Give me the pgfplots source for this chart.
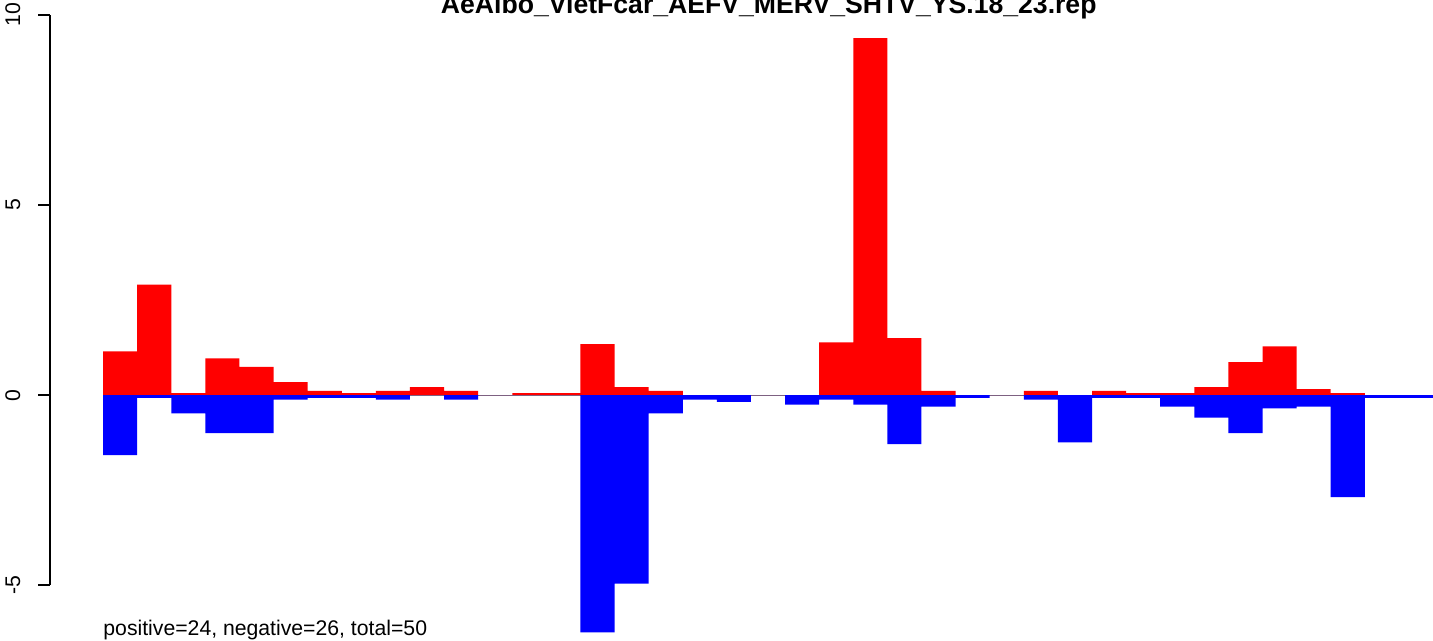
\documentclass[border=0pt]{standalone}
\usepackage{pgfplots}
\pgfplotsset{compat=1.18}
\usepackage{pgfplotstable}
\usepackage{fontspec}
\setmainfont{Liberation Sans}
\pgfplotstableread{
x red blue
0 1.15 -1.58
1 2.91 -0.07
2 0.05 -0.48
3 0.97 -1.00
4 0.74 -1.00
5 0.34 -0.12
6 0.11 -0.07
7 0.05 -0.07
8 0.11 -0.12
9 0.21 0
10 0.11 -0.12
11 0 0
12 0.05 0
13 0.05 0
14 1.34 -6.24
15 0.21 -4.96
16 0.11 -0.48
17 0 -0.12
18 0 -0.18
19 0 0
20 0 -0.25
21 1.39 -0.12
22 9.39 -0.25
23 1.50 -1.29
24 0.11 -0.30
25 0 -0.07
26 0 0
27 0.11 -0.12
28 0 -1.24
29 0.11 -0.07
30 0.05 -0.07
31 0.05 -0.30
32 0.21 -0.59
33 0.87 -1.00
34 1.28 -0.35
35 0.16 -0.30
36 0.05 -2.68
37 0 -0.07
38 0 -0.07
}\datatable
\begin{document}
\begin{tikzpicture}
\path[use as bounding box] (-25pt,-27.5pt) rectangle (691.25pt,292.5pt);
\begin{axis}[
  at={(0,0)}, anchor=south west,
  scale only axis,
  width=691.25pt, height=285pt,
  xmin=-2.055, xmax=38.5,
  ymin=-5, ymax=10,
  clip=false,
  axis x line=none,
  axis y line*=left,
  axis line style={line width=0.8pt, black},
  ytick={-5,0,5,10},
  tick align=outside,
  major tick length=6pt,
  tick style={line width=0.8pt, black},
  /pgf/number format/assume math mode=true,
  yticklabel style={rotate=90, anchor=base, inner sep=0pt, font=\fontsize{10.6}{12}\selectfont},
  yticklabel shift=9pt,
  title={AeAlbo\_VietFcar\_AEFV\_MERV\_SHTV\_YS.18\_23.rep},
  title style={at={(rel axis cs:0.5197,1)}, anchor=base, yshift=-5.5pt, inner sep=0pt, font=\fontsize{13.3}{15}\selectfont\bfseries},
]
\addplot[gray, line width=0.6pt] coordinates {(-0.5,0) (38.5,0)};
\addplot[ybar, bar width=1, bar shift=0pt, fill=red, draw=none] table[x=x, y=red] {\datatable};
\addplot[ybar, bar width=1, bar shift=0pt, fill=blue, draw=none] table[x=x, y=blue] {\datatable};
\end{axis}
\node[anchor=base west, inner sep=0pt, font=\fontsize{10.6}{12}\selectfont] at (26.5pt,-25pt) {positive=24, negative=26, total=50};
\end{tikzpicture}
\end{document}
